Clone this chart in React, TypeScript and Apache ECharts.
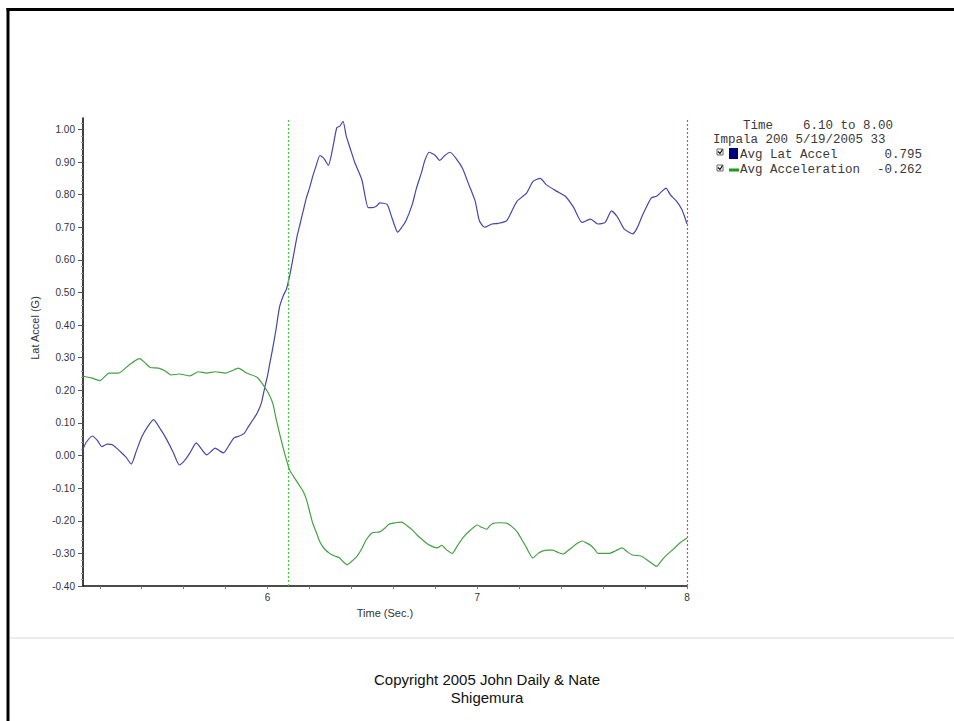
import React, { useEffect, useRef } from "react";
import * as echarts from "echarts";

// ---- Data ----
const latTime = [
  5.117, 5.135, 5.165, 5.19, 5.21, 5.235, 5.26, 5.3, 5.325, 5.35, 5.375, 5.4, 5.43, 5.456, 5.49, 5.52, 5.55, 5.58,
  5.605, 5.63, 5.66, 5.685, 5.71, 5.73, 5.75, 5.77, 5.79, 5.815, 5.84, 5.865, 5.89, 5.91, 5.93, 5.95, 5.97, 5.986,
  6.0, 6.01, 6.025, 6.04, 6.057, 6.075, 6.09, 6.105, 6.12, 6.14, 6.155, 6.17, 6.185, 6.2, 6.215, 6.23, 6.25, 6.27,
  6.29, 6.31, 6.33, 6.345, 6.36, 6.375, 6.395, 6.415, 6.45, 6.48, 6.5, 6.52, 6.535, 6.57, 6.59, 6.606, 6.62, 6.64,
  6.66, 6.69, 6.71, 6.735, 6.75, 6.77, 6.8, 6.82, 6.845, 6.87, 6.9, 6.93, 6.96, 6.99, 7.01, 7.035, 7.07, 7.1, 7.14,
  7.165, 7.19, 7.235, 7.265, 7.3, 7.33, 7.38, 7.42, 7.46, 7.5, 7.54, 7.575, 7.61, 7.64, 7.67, 7.7, 7.74, 7.76, 7.79,
  7.83, 7.855, 7.88, 7.9, 7.92, 7.95, 7.975, 7.99, 8.0,
];
const latAccel = [
  0.015, 0.04, 0.06, 0.045, 0.027, 0.035, 0.033, 0.011, -0.005, -0.026, 0.015, 0.057, 0.09, 0.11, 0.08, 0.048, 0.01,
  -0.029, -0.015, 0.008, 0.039, 0.02, 0.002, 0.012, 0.023, 0.015, 0.008, 0.03, 0.054, 0.06, 0.069, 0.09, 0.109, 0.13,
  0.16, 0.207, 0.245, 0.28, 0.33, 0.385, 0.455, 0.49, 0.51, 0.55, 0.6, 0.67, 0.71, 0.75, 0.79, 0.82, 0.855, 0.885,
  0.92, 0.91, 0.89, 0.94, 1.005, 1.01, 1.025, 0.98, 0.94, 0.9, 0.845, 0.76, 0.76, 0.765, 0.775, 0.77, 0.735, 0.705,
  0.685, 0.7, 0.72, 0.77, 0.82, 0.87, 0.905, 0.93, 0.92, 0.905, 0.92, 0.93, 0.91, 0.88, 0.83, 0.78, 0.72, 0.7, 0.71,
  0.712, 0.72, 0.75, 0.78, 0.805, 0.84, 0.85, 0.83, 0.81, 0.795, 0.76, 0.715, 0.725, 0.71, 0.715, 0.75, 0.73, 0.695,
  0.68, 0.695, 0.74, 0.79, 0.795, 0.81, 0.82, 0.8, 0.78, 0.755, 0.73, 0.71,
];
const accTime = [
  5.117, 5.16, 5.2, 5.245, 5.29, 5.34, 5.39, 5.415, 5.44, 5.48, 5.51, 5.54, 5.58, 5.63, 5.67, 5.71, 5.75, 5.8, 5.83,
  5.86, 5.9, 5.95, 5.986, 6.005, 6.025, 6.04, 6.057, 6.08, 6.105, 6.13, 6.15, 6.17, 6.186, 6.2, 6.215, 6.235, 6.25,
  6.27, 6.296, 6.32, 6.344, 6.36, 6.38, 6.4, 6.425, 6.45, 6.47, 6.5, 6.535, 6.56, 6.58, 6.61, 6.64, 6.665, 6.69,
  6.715, 6.74, 6.765, 6.79, 6.81, 6.83, 6.855, 6.88, 6.905, 6.93, 6.965, 7.0, 7.02, 7.045, 7.06, 7.08, 7.11, 7.14,
  7.165, 7.19, 7.21, 7.235, 7.265, 7.29, 7.31, 7.335, 7.36, 7.385, 7.41, 7.43, 7.45, 7.475, 7.5, 7.52, 7.54, 7.56,
  7.575, 7.6, 7.63, 7.66, 7.69, 7.715, 7.74, 7.78, 7.81, 7.835, 7.855, 7.875, 7.895, 7.93, 7.97, 8.0,
];
const acceleration = [
  0.244, 0.238, 0.23, 0.253, 0.253, 0.278, 0.297, 0.285, 0.27, 0.268, 0.26, 0.247, 0.25, 0.244, 0.257, 0.253, 0.257,
  0.253, 0.26, 0.268, 0.253, 0.24, 0.21, 0.19, 0.16, 0.115, 0.068, 0.01, -0.044, -0.07, -0.09, -0.11, -0.136, -0.17,
  -0.207, -0.24, -0.265, -0.285, -0.3, -0.308, -0.314, -0.325, -0.335, -0.325, -0.31, -0.285, -0.259, -0.237, -0.234,
  -0.222, -0.21, -0.206, -0.204, -0.215, -0.228, -0.245, -0.259, -0.272, -0.28, -0.283, -0.275, -0.29, -0.3, -0.277,
  -0.253, -0.23, -0.213, -0.22, -0.226, -0.215, -0.207, -0.206, -0.207, -0.218, -0.234, -0.255, -0.283, -0.314, -0.3,
  -0.293, -0.29, -0.29, -0.297, -0.302, -0.293, -0.283, -0.27, -0.262, -0.268, -0.275, -0.288, -0.3, -0.3, -0.3,
  -0.292, -0.283, -0.295, -0.305, -0.308, -0.32, -0.332, -0.34, -0.325, -0.31, -0.29, -0.266, -0.253,
];
const cursorTimes = [6.1, 8.0];
const cursorColors = ["#44cc44", "#ff3a3a"];
const xLabelValues = [6, 7, 8];
const xTickValues = [
  5.2, 5.4, 5.6, 5.8, 6.0, 6.2, 6.4, 6.6, 6.8, 7.0, 7.2, 7.4, 7.6, 7.8, 8.0,
];
const yTickValues = [-0.4, -0.3, -0.2, -0.1, 0, 0.1, 0.2, 0.3, 0.4, 0.5, 0.6, 0.7, 0.8, 0.9, 1.0];
const Y_MIN = -0.4;
const Y_MAX = 1.035;
const legendHeader = ["Time    6.10 to 8.00", "Impala 200 5/19/2005 33"];
const seriesNames = ["Avg Lat Accel", "Avg Acceleration"];
const seriesValues = ["0.795", "-0.262"];
const footerLines = ["Copyright 2005 John Daily & Nate", "Shigemura"];

const BLUE = "#4646a6";
const GREEN = "#44a044";
const MONO = "'Liberation Mono', 'DejaVu Sans Mono', monospace";
const SANS = "'Liberation Sans', Arial, sans-serif";

export default function App() {
  const ref = useRef<HTMLDivElement>(null);
  useEffect(() => {
    if (!ref.current) return;
    const chart = echarts.init(ref.current, undefined, { renderer: "svg" });
    const pairs = (xs: number[], ys: number[]) => xs.map((x, i) => [x, ys[i]]);
    const legendText = (text: string, x: number, y: number, align = "left") => ({
      type: "text",
      x,
      y,
      style: { text, font: `12.5px ${MONO}`, fill: "#3a3a3a", align, verticalAlign: "middle" },
      silent: true,
    });
    chart.setOption({
      animation: false,
      backgroundColor: "#ffffff",
      grid: { left: 83, right: 267, top: 118, bottom: 135, containLabel: false },
      xAxis: {
        type: "value",
        min: 5.12,
        max: 8,
        name: "Time (Sec.)",
        nameLocation: "middle",
        nameGap: 21,
        nameTextStyle: { fontFamily: SANS, fontSize: 11, color: "#333" },
        axisLine: { show: true, onZero: false, lineStyle: { color: "#111", width: 1.6 } },
        axisTick: { show: true, length: 3, customValues: xTickValues, lineStyle: { color: "#777" } },
        axisLabel: {
          customValues: xLabelValues,
          margin: 6,
          fontFamily: SANS,
          fontSize: 10,
          color: "#333",
          formatter: (v: number) => String(Math.round(v)),
        },
        splitLine: { show: false },
      },
      yAxis: {
        type: "value",
        min: Y_MIN,
        max: Y_MAX,
        interval: 0.1,
        axisLine: { show: true, onZero: false, lineStyle: { color: "#111", width: 1.6 } },
        axisTick: { show: true, length: 5, customValues: yTickValues, lineStyle: { color: "#555" } },
        minorTick: { show: true, splitNumber: 5, length: 2, lineStyle: { color: "#999" } },
        axisLabel: {
          customValues: yTickValues,
          margin: 8,
          fontFamily: SANS,
          fontSize: 10,
          color: "#333",
          formatter: (v: number) => v.toFixed(2),
        },
        splitLine: { show: false },
      },
      series: [
        {
          name: seriesNames[0],
          type: "line",
          data: pairs(latTime, latAccel),
          showSymbol: false,
          smooth: 0.2,
          lineStyle: { color: BLUE, width: 1.2 },
          itemStyle: { color: BLUE },
          z: 3,
        },
        {
          name: seriesNames[1],
          type: "line",
          data: pairs(accTime, acceleration),
          showSymbol: false,
          smooth: 0.2,
          lineStyle: { color: GREEN, width: 1.2 },
          itemStyle: { color: GREEN },
          z: 3,
        },
        {
          name: "cursors",
          type: "line",
          data: [],
          z: 2,
          clip: false,
          markLine: {
            silent: true,
            symbol: ["none", "none"],
            label: { show: false },
            data: cursorTimes.map((t, i) => [
              { coord: [t, Y_MIN], lineStyle: { color: cursorColors[i], type: [2, 2], width: 1.2 } },
              { coord: [t, Y_MAX] },
            ]),
          },
        },
      ],
      graphic: [
        // outer frame (left and top edges; the rest lies outside the picture)
        {
          type: "line",
          shape: { x1: 8, y1: 8, x2: 8, y2: 721 },
          style: { stroke: "#000", lineWidth: 3 },
          silent: true,
        },
        {
          type: "line",
          shape: { x1: 6.5, y1: 9.5, x2: 954, y2: 9.5 },
          style: { stroke: "#000", lineWidth: 3 },
          silent: true,
        },
        // separator line
        {
          type: "line",
          shape: { x1: 10, y1: 638, x2: 954, y2: 638 },
          style: { stroke: "#e4e4e4", lineWidth: 1.5 },
          silent: true,
        },
        // y-axis title
        {
          type: "text",
          x: 35,
          y: 328,
          rotation: Math.PI / 2,
          style: {
            text: "Lat Accel (G)",
            font: `11px ${SANS}`,
            fill: "#333",
            align: "center",
            verticalAlign: "middle",
          },
          silent: true,
        },
        // legend panel
        legendText(legendHeader[0], 743, 126),
        legendText(legendHeader[1], 713, 140),
        {
          type: "rect",
          shape: { x: 717, y: 149, width: 6, height: 6 },
          style: { fill: "#fff", stroke: "#666", lineWidth: 1 },
          silent: true,
        },
        {
          type: "polyline",
          shape: { points: [[718, 151.5], [720, 153.5], [722.5, 149.5]] },
          style: { stroke: "#111", lineWidth: 1.2, fill: "none" },
          silent: true,
        },
        {
          type: "rect",
          shape: { x: 729, y: 148, width: 9, height: 11 },
          style: { fill: "#00007a" },
          silent: true,
        },
        legendText(seriesNames[0], 740, 155),
        legendText(seriesValues[0], 922, 155, "right"),
        {
          type: "rect",
          shape: { x: 717, y: 165, width: 6, height: 6 },
          style: { fill: "#fff", stroke: "#666", lineWidth: 1 },
          silent: true,
        },
        {
          type: "polyline",
          shape: { points: [[718, 167.5], [720, 169.5], [722.5, 165.5]] },
          style: { stroke: "#111", lineWidth: 1.2, fill: "none" },
          silent: true,
        },
        {
          type: "rect",
          shape: { x: 729, y: 168.5, width: 10, height: 3 },
          style: { fill: "#1f9a1f" },
          silent: true,
        },
        legendText(seriesNames[1], 740, 170),
        legendText(seriesValues[1], 922, 170, "right"),
        // footer
        {
          type: "text",
          x: 487,
          y: 688,
          style: {
            text: footerLines.join("\n"),
            font: `15px ${SANS}`,
            fill: "#111",
            align: "center",
            verticalAlign: "middle",
            lineHeight: 18,
          },
          silent: true,
        },
      ],
    });
    return () => chart.dispose();
  }, []);
  return (
    <div
      ref={ref}
      style={{ position: "fixed", left: 0, top: 0, width: 954, height: 721, background: "#fff" }}
    />
  );
}
